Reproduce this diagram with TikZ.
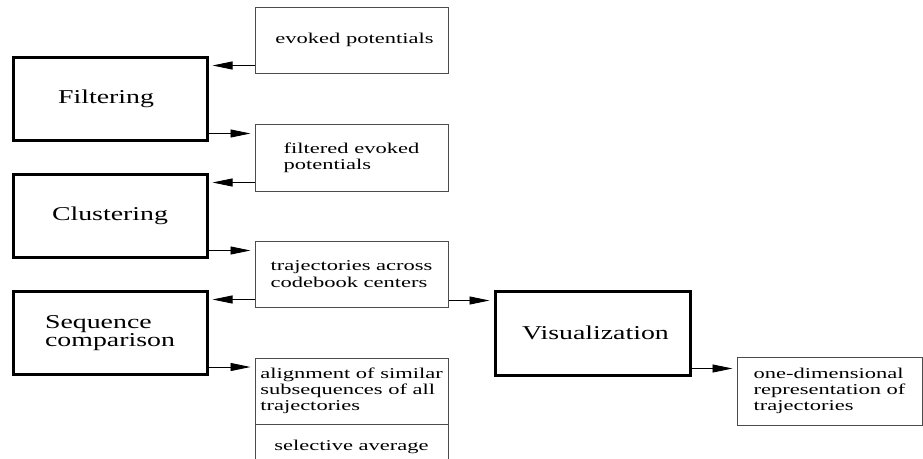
\documentclass[tikz,border=0pt]{standalone}
\usepackage{fontspec}
\setmainfont{Liberation Serif}
\newfontfamily\bigf[FakeStretch=1.42]{Liberation Serif}
\newfontfamily\smallf[FakeStretch=1.5]{Liberation Serif}
\usetikzlibrary{arrows.meta,calc}
\begin{document}
\begin{tikzpicture}[x=1pt,y=-1pt,
  proc/.style={draw=black,line width=3pt,minimum width=194pt,minimum height=83pt,inner sep=0pt,
    font=\bigf\fontsize{19.6}{16.7}\selectfont,align=left},
  data/.style={draw=black!70,line width=1pt,minimum width=193pt,minimum height=66pt,inner sep=0pt,
    font=\smallf\fontsize{15}{16.3}\selectfont,align=left},
  arr/.style={line width=0.9pt,-{Triangle[length=20pt,width=8pt]},shorten >=4pt}]
\useasboundingbox (0,0) rectangle (923,458);
\clip (0,0) rectangle (923,458);
% process boxes
\node[proc] (filt) at (110,98.5) {Filtering\hspace*{8pt}};
\node[proc] (clus) at (110,215.5) {Clustering};
\node[proc] (seq) at (110,333) {Sequence\\comparison};
\node[proc,minimum width=195pt,minimum height=84pt] (vis) at (592.5,333) {\hspace*{6pt}Visualization};
% data boxes
\node[data] (evk) at (351.5,40) {\hspace*{6pt}evoked potentials};
\node[data,minimum height=67pt] (fep) at (351.5,157.5) {filtered evoked\\potentials};
\node[data] (traj) at (351.5,274) {trajectories across\\codebook centers};
\node[data] (algn) at (351.5,391) {alignment of similar\\subsequences of all\\trajectories};
\node[data,minimum height=44pt,anchor=north] (savg) at (351.5,424) {selective average};
\node[data,minimum width=185pt,minimum height=68pt] (onedim) at (829.5,391) {one-dimensional\\representation of\\trajectories};
% connectors
\draw[arr] ([yshift=8pt]evk.south west) -- ([yshift=8pt]evk.south west -| filt.east);
\draw[arr] ([yshift=8pt]filt.south east) -- ([yshift=8pt]filt.south east -| fep.west);
\draw[arr] ([yshift=9pt]fep.south west) -- ([yshift=9pt]fep.south west -| clus.east);
\draw[arr] ([yshift=8pt]clus.south east) -- ([yshift=8pt]clus.south east -| traj.west);
\draw[arr] ([yshift=8pt]traj.south west) -- ([yshift=8pt]traj.south west -| seq.east);
\draw[arr] ([yshift=9pt]seq.south east) -- ([yshift=9pt]seq.south east -| algn.west);
\draw[arr] ([yshift=7pt]traj.south east) -- ([yshift=7pt]traj.south east -| vis.west);
\draw[arr] ([yshift=8pt]vis.south east) -- ([yshift=8pt]vis.south east -| onedim.west);
\end{tikzpicture}
\end{document}
